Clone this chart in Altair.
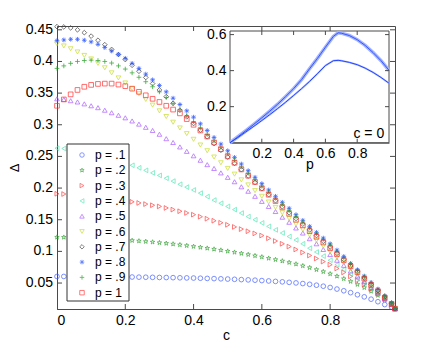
import altair as alt
import pandas as pd

# ---------------- data ----------------
c_vals = [0.00, 0.02, 0.04, 0.06, 0.08, 0.10, 0.12, 0.14, 0.16, 0.18,
          0.20, 0.22, 0.24, 0.26, 0.28, 0.30, 0.32, 0.34, 0.36, 0.38,
          0.40, 0.42, 0.44, 0.46, 0.48, 0.50, 0.52, 0.54, 0.56, 0.58,
          0.60, 0.62, 0.64, 0.66, 0.68, 0.70, 0.72, 0.74, 0.76, 0.78,
          0.80, 0.82, 0.84, 0.86, 0.88, 0.90, 0.92, 0.94, 0.96, 0.98, 0.99]

p_labels = ["p = .1", "p = .2", "p = .3", "p = .4", "p = .5",
            "p = .6", "p = .7", "p = .8", "p = .9", "p = 1"]

d_p1 = [0.0604, 0.0604, 0.0603, 0.0603, 0.0602, 0.0601, 0.0600, 0.0599, 0.0598, 0.0597,
        0.0596, 0.0595, 0.0593, 0.0592, 0.0590, 0.0588, 0.0587, 0.0585, 0.0583, 0.0581,
        0.0579, 0.0576, 0.0573, 0.0570, 0.0567, 0.0563, 0.0559, 0.0554, 0.0550, 0.0545,
        0.0539, 0.0533, 0.0526, 0.0519, 0.0511, 0.0502, 0.0492, 0.0480, 0.0466, 0.0450,
        0.0430, 0.0405, 0.0378, 0.0348, 0.0315, 0.0282, 0.0245, 0.0205, 0.0160, 0.0120, 0.0095]
d_p2 = [0.1224, 0.1223, 0.1221, 0.1218, 0.1214, 0.1210, 0.1205, 0.1199, 0.1193, 0.1187,
        0.1180, 0.1172, 0.1164, 0.1156, 0.1147, 0.1137, 0.1127, 0.1116, 0.1104, 0.1091,
        0.1078, 0.1064, 0.1050, 0.1035, 0.1019, 0.1003, 0.0986, 0.0968, 0.0950, 0.0931,
        0.0912, 0.0891, 0.0870, 0.0848, 0.0825, 0.0800, 0.0772, 0.0743, 0.0712, 0.0680,
        0.0645, 0.0608, 0.0568, 0.0525, 0.0478, 0.0428, 0.0370, 0.0305, 0.0235, 0.0160, 0.0095]
d_p3 = [0.1910, 0.1906, 0.1900, 0.1892, 0.1882, 0.1870, 0.1857, 0.1843, 0.1829, 0.1815,
        0.1800, 0.1783, 0.1765, 0.1747, 0.1729, 0.1710, 0.1686, 0.1660, 0.1634, 0.1607,
        0.1580, 0.1548, 0.1516, 0.1484, 0.1452, 0.1420, 0.1386, 0.1352, 0.1318, 0.1284,
        0.1250, 0.1207, 0.1164, 0.1120, 0.1076, 0.1030, 0.0983, 0.0935, 0.0887, 0.0839,
        0.0790, 0.0730, 0.0668, 0.0605, 0.0543, 0.0480, 0.0405, 0.0330, 0.0250, 0.0160, 0.0095]
d_p4 = [0.2630, 0.2625, 0.2610, 0.2590, 0.2570, 0.2540, 0.2510, 0.2480, 0.2455, 0.2430,
        0.2400, 0.2360, 0.2320, 0.2280, 0.2240, 0.2200, 0.2155, 0.2110, 0.2060, 0.2015,
        0.1970, 0.1920, 0.1865, 0.1810, 0.1760, 0.1710, 0.1660, 0.1605, 0.1550, 0.1500,
        0.1450, 0.1395, 0.1340, 0.1290, 0.1235, 0.1180, 0.1120, 0.1050, 0.0990, 0.0925,
        0.0860, 0.0790, 0.0715, 0.0645, 0.0570, 0.0500, 0.0420, 0.0335, 0.0250, 0.0160, 0.0095]
d_p5 = [0.341, 0.340, 0.338, 0.336, 0.333, 0.330, 0.327, 0.323, 0.319, 0.315,
        0.311, 0.306, 0.301, 0.296, 0.291, 0.285, 0.278, 0.272, 0.265, 0.258,
        0.251, 0.244, 0.237, 0.231, 0.224, 0.217, 0.210, 0.202, 0.195, 0.187,
        0.179, 0.171, 0.163, 0.154, 0.146, 0.137, 0.129, 0.120, 0.112, 0.103,
        0.095, 0.086, 0.078, 0.069, 0.061, 0.052, 0.043, 0.034, 0.025, 0.016, 0.0095]
d_p6 = [0.428, 0.4245, 0.420, 0.415, 0.4095, 0.404, 0.397, 0.390, 0.382, 0.374,
        0.366, 0.357, 0.349, 0.340, 0.331, 0.322, 0.313, 0.304, 0.295, 0.286,
        0.277, 0.268, 0.259, 0.249, 0.240, 0.231, 0.222, 0.213, 0.205, 0.196,
        0.187, 0.178, 0.1695, 0.161, 0.152, 0.143, 0.1345, 0.126, 0.1175, 0.1085,
        0.100, 0.091, 0.082, 0.073, 0.064, 0.055, 0.0455, 0.036, 0.0265, 0.017, 0.0095]
d_p7 = [0.455, 0.4545, 0.453, 0.450, 0.4455, 0.440, 0.4335, 0.4265, 0.419, 0.411,
        0.403, 0.394, 0.3845, 0.3747, 0.365, 0.355, 0.3445, 0.334, 0.323, 0.3125,
        0.302, 0.2915, 0.281, 0.2703, 0.2597, 0.249, 0.239, 0.229, 0.219, 0.209,
        0.199, 0.1895, 0.180, 0.1705, 0.161, 0.152, 0.143, 0.134, 0.125, 0.116,
        0.107, 0.097, 0.087, 0.077, 0.068, 0.058, 0.048, 0.038, 0.028, 0.0175, 0.0095]
d_p8 = [0.433, 0.434, 0.435, 0.435, 0.4335, 0.431, 0.427, 0.422, 0.4165, 0.411,
        0.405, 0.397, 0.389, 0.380, 0.371, 0.362, 0.352, 0.342, 0.332, 0.322,
        0.312, 0.3015, 0.291, 0.280, 0.2695, 0.259, 0.2485, 0.238, 0.2275, 0.217,
        0.207, 0.197, 0.187, 0.1775, 0.168, 0.158, 0.149, 0.1395, 0.130, 0.121,
        0.112, 0.102, 0.092, 0.081, 0.071, 0.061, 0.051, 0.0405, 0.030, 0.0190, 0.0095]
d_p9 = [0.389, 0.393, 0.397, 0.400, 0.4015, 0.402, 0.4015, 0.400, 0.3975, 0.393,
        0.388, 0.382, 0.375, 0.368, 0.360, 0.352, 0.343, 0.3335, 0.324, 0.3145,
        0.305, 0.295, 0.2847, 0.2745, 0.2643, 0.254, 0.244, 0.2335, 0.2235, 0.213,
        0.203, 0.1935, 0.184, 0.174, 0.1645, 0.155, 0.146, 0.137, 0.128, 0.119,
        0.110, 0.100, 0.090, 0.080, 0.070, 0.060, 0.050, 0.040, 0.0295, 0.019, 0.0095]
d_p10 = [0.330, 0.340, 0.348, 0.355, 0.360, 0.363, 0.3645, 0.365, 0.365, 0.3635,
         0.361, 0.357, 0.352, 0.3465, 0.341, 0.336, 0.330, 0.324, 0.318, 0.309,
         0.300, 0.291, 0.2815, 0.272, 0.2615, 0.250, 0.240, 0.2295, 0.2195, 0.2095,
         0.1995, 0.1895, 0.1795, 0.1695, 0.1595, 0.150, 0.141, 0.132, 0.123, 0.114,
         0.105, 0.0955, 0.086, 0.0765, 0.067, 0.057, 0.047, 0.037, 0.027, 0.017, 0.0095]

# inset (c = 0): Delta versus p
inset_p = [0.00, 0.05, 0.10, 0.15, 0.20, 0.25, 0.30, 0.35, 0.40, 0.45, 0.50, 0.55,
           0.60, 0.65, 0.68, 0.70, 0.75, 0.80, 0.85, 0.90, 0.95, 1.00]
inset_upper = [0.000, 0.033, 0.067, 0.102, 0.138, 0.175, 0.214, 0.256, 0.300, 0.350, 0.410, 0.468,
               0.530, 0.590, 0.610, 0.608, 0.595, 0.572, 0.540, 0.500, 0.455, 0.402]
inset_lower = [0.000, 0.029, 0.060, 0.091, 0.123, 0.156, 0.190, 0.225, 0.262, 0.300, 0.340, 0.383,
               0.428, 0.455, 0.457, 0.455, 0.446, 0.433, 0.414, 0.390, 0.362, 0.330]

x_ticks = [0, 0.2, 0.4, 0.6, 0.8]
y_ticks = [0.05, 0.1, 0.15, 0.2, 0.25, 0.3, 0.35, 0.4, 0.45]
y_tick_labels = ["0.05", "0.1", "0.15", "0.2", "0.25", "0.3", "0.35", "0.4", "0.45"]
ix_ticks = [0.2, 0.4, 0.6, 0.8]
iy_ticks = [0.2, 0.4, 0.6]

# ---------------- styling ----------------
FONT = "Liberation Sans"
AX = "#4a4a4a"
W, H = 338, 283
IX0, IX1 = 173, 332      # inset horizontal pixel range inside plot
IYB, IYT = 116.7, 5      # inset vertical pixel range inside plot

colors = ["#3f5cff", "#2f9e2f", "#ff3b3b", "#4fe6b4", "#a855ff",
          "#c6dc24", "#3a3a3a", "#1f4dff", "#1f9e1f", "#ff2a2a"]
star = ("M0,-1L0.225,-0.309L0.951,-0.309L0.363,0.118L0.588,0.809L0,0.382"
        "L-0.588,0.809L-0.363,0.118L-0.951,-0.309L-0.225,-0.309Z")
asterisk = "M-1,0L1,0M0,-1L0,1M-0.7,-0.7L0.7,0.7M-0.7,0.7L0.7,-0.7"
plus = "M-1,0L1,0M0,-1L0,1"
shapes = ["circle", star, "triangle-right", "triangle-left", "triangle-up",
          "triangle-down", "diamond", asterisk, plus, "square"]

series = [d_p1, d_p2, d_p3, d_p4, d_p5, d_p6, d_p7, d_p8, d_p9, d_p10]
rows = []
for lab, vals in zip(p_labels, series):
    for c, v in zip(c_vals, vals):
        rows.append({"c": c, "delta": v, "p": lab})
df = pd.DataFrame(rows)

inset_rows = []
for p, u, l in zip(inset_p, inset_upper, inset_lower):
    inset_rows.append({"pp": p, "v": u, "s": "upper"})
    inset_rows.append({"pp": p, "v": l, "s": "lower"})
idf = pd.DataFrame(inset_rows)

xscale = alt.Scale(domain=[0, 0.99], nice=False, zero=False)
yscale = alt.Scale(domain=[0.009, 0.456], nice=False, zero=False)
ixscale = alt.Scale(domain=[0, 1], range=[IX0, IX1], nice=False, zero=False)
iyscale = alt.Scale(domain=[0, 0.62], range=[IYB, IYT], nice=False, zero=False)
cscale = alt.Scale(domain=p_labels, range=colors)
sscale = alt.Scale(domain=p_labels, range=shapes)

points = alt.Chart(df).mark_point(filled=False, size=22, strokeWidth=0.8, opacity=0.85).encode(
    x=alt.X("c:Q", scale=xscale,
            axis=alt.Axis(values=x_ticks, format="~g", title="c", labelOverlap=False,
                          titleY=30, titleBaseline="alphabetic")),
    y=alt.Y("delta:Q", scale=yscale,
            axis=alt.Axis(values=y_ticks, labels=False, title="Δ", titleFontSize=13,
                          titleX=-39, titleY=H / 2, titleBaseline="alphabetic")),
    color=alt.Color("p:N", scale=cscale, legend=None),
    shape=alt.Shape("p:N", scale=sscale, legend=None),
    order=alt.Order("p:N"),
)

xt = pd.DataFrame({"c": x_ticks[1:]})
yt = pd.DataFrame({"delta": y_ticks, "lab": y_tick_labels})
tick_style = dict(color=AX, strokeWidth=1)
ticks_main = alt.layer(
    alt.Chart(xt).mark_rule(**tick_style).encode(x=alt.X("c:Q", scale=xscale), y=alt.value(H), y2=alt.value(H - 5)),
    alt.Chart(xt).mark_rule(**tick_style).encode(x=alt.X("c:Q", scale=xscale), y=alt.value(0), y2=alt.value(5)),
    alt.Chart(yt).mark_rule(**tick_style).encode(y=alt.Y("delta:Q", scale=yscale), x=alt.value(0), x2=alt.value(5)),
    alt.Chart(yt).mark_rule(**tick_style).encode(y=alt.Y("delta:Q", scale=yscale), x=alt.value(W), x2=alt.value(W - 5)),
    alt.Chart(yt).mark_text(align="right", baseline="middle", font=FONT, fontSize=14,
                            color="black").encode(
        y=alt.Y("delta:Q", scale=yscale), x=alt.value(-4), text="lab:N"),
)

main = alt.layer(points, ticks_main)

# ---------------- inset ----------------
box_df = pd.DataFrame({"x0": [0.0], "x1": [1.0], "y0": [0.0], "y1": [0.62]})
box = alt.Chart(box_df).mark_rect(fill="white", stroke=AX, strokeWidth=1).encode(
    x=alt.X("x0:Q", scale=ixscale,
            axis=alt.Axis(orient="bottom", offset=-(H - IYB), values=ix_ticks, format="~g",
                          labelOverlap=False,
                          title="p", titleY=26, titleBaseline="alphabetic")),
    x2="x1:Q",
    y=alt.Y("y0:Q", scale=iyscale,
            axis=alt.Axis(orient="left", offset=-IX0, values=iy_ticks, format="~g",
                          labelOverlap=False, title=None)),
    y2="y1:Q",
)

upper_band = alt.Chart(idf[idf.s == "upper"]).mark_line(color="#a3b4ff", strokeWidth=3.5).encode(
    x=alt.X("pp:Q", scale=ixscale), y=alt.Y("v:Q", scale=iyscale))
upper_line = alt.Chart(idf[idf.s == "upper"]).mark_line(color="#3556ff", strokeWidth=1).encode(
    x=alt.X("pp:Q", scale=ixscale), y=alt.Y("v:Q", scale=iyscale))
lower_band = alt.Chart(idf[idf.s == "lower"]).mark_line(color="#b3c0ff", strokeWidth=2).encode(
    x=alt.X("pp:Q", scale=ixscale), y=alt.Y("v:Q", scale=iyscale))
lower_line = alt.Chart(idf[idf.s == "lower"]).mark_line(color="#2446ff", strokeWidth=1).encode(
    x=alt.X("pp:Q", scale=ixscale), y=alt.Y("v:Q", scale=iyscale))

label = alt.Chart(box_df).mark_text(text="c = 0", align="right", baseline="alphabetic",
                                    font=FONT, fontSize=14, color="black").encode(
    x=alt.X(datum=0.97, scale=ixscale), y=alt.Y(datum=0.025, scale=iyscale))

ixt = pd.DataFrame({"pp": ix_ticks})
iyt = pd.DataFrame({"v": iy_ticks})
ticks_inset = alt.layer(
    alt.Chart(ixt).mark_rule(**tick_style).encode(x=alt.X("pp:Q", scale=ixscale), y=alt.value(IYB), y2=alt.value(IYB - 4)),
    alt.Chart(ixt).mark_rule(**tick_style).encode(x=alt.X("pp:Q", scale=ixscale), y=alt.value(IYT), y2=alt.value(IYT + 4)),
    alt.Chart(iyt).mark_rule(**tick_style).encode(y=alt.Y("v:Q", scale=iyscale), x=alt.value(IX0), x2=alt.value(IX0 + 4)),
    alt.Chart(iyt).mark_rule(**tick_style).encode(y=alt.Y("v:Q", scale=iyscale), x=alt.value(IX1), x2=alt.value(IX1 - 4)),
)

inset = alt.layer(box, upper_band, lower_band, upper_line, lower_line, ticks_inset, label)

# ---------------- legend (drawn as marks) ----------------
ldf = pd.DataFrame({"p": p_labels, "idx": list(range(len(p_labels)))})
lscale = alt.Scale(domain=[0, 9], range=[129, 266.7], nice=False, zero=False)
leg_box = alt.Chart(ldf.head(1)).mark_rect(fill="white", stroke="#333333", strokeWidth=1).encode(
    x=alt.value(10), x2=alt.value(72), y=alt.value(118), y2=alt.value(275))
leg_sym = alt.Chart(ldf).mark_point(filled=False, size=20, strokeWidth=0.9).encode(
    x=alt.value(25),
    y=alt.Y("idx:Q", scale=lscale, axis=None),
    color=alt.Color("p:N", scale=cscale, legend=None),
    shape=alt.Shape("p:N", scale=sscale, legend=None),
)
leg_txt = alt.Chart(ldf).mark_text(align="left", baseline="middle", font=FONT, fontSize=12,
                                   color="black").encode(
    x=alt.value(38),
    y=alt.Y("idx:Q", scale=lscale, axis=None),
    text="p:N",
)
legend_layer = alt.layer(leg_box, leg_sym, leg_txt)

chart = alt.layer(main, inset, legend_layer).resolve_scale(
    x="independent", y="independent", color="independent", shape="independent"
).properties(
    width=W, height=H,
    autosize=alt.AutoSizeParams(type="none"),
    padding={"left": 49, "top": 18, "right": 33, "bottom": 32},
).configure_view(
    stroke=AX, strokeWidth=1
).configure_axis(
    grid=False, tickSize=0, domainColor=AX, domainWidth=1, labelOverlap=False,
    labelFont=FONT, labelFontSize=14, labelColor="black", labelPadding=4,
    titleFont=FONT, titleFontSize=14, titleFontWeight="normal", titleColor="black",
)

chart.save("out.html", embed_options={"renderer": "svg", "actions": False})
